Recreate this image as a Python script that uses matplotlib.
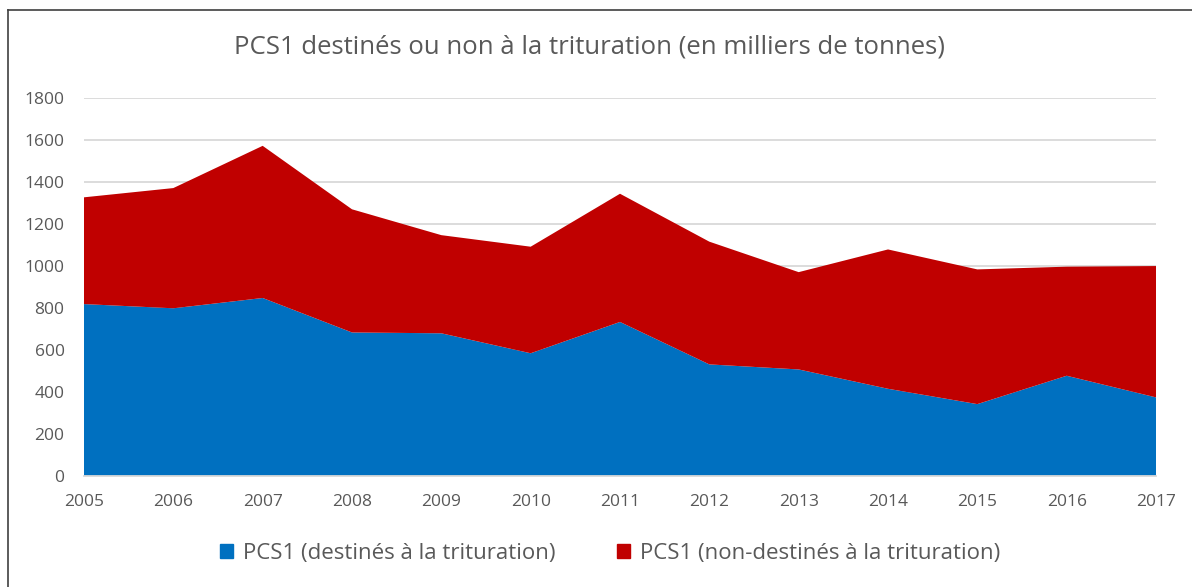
import matplotlib.pyplot as plt
from matplotlib.lines import Line2D
from matplotlib.patches import Patch

plt.rcParams['font.family'] = ['Open Sans', 'DejaVu Sans']

years = [2005, 2006, 2007, 2008, 2009, 2010, 2011, 2012, 2013, 2014, 2015, 2016, 2017]
destines = [818, 798, 847, 683, 679, 584, 733, 531, 507, 415, 342, 477, 374]
non_destines = [508, 572, 724, 586, 467, 507, 610, 584, 463, 663, 641, 519, 625]

BLUE = '#0070C0'
RED = '#C00000'
TXT = '#595959'
GRID = '#D9D9D9'

W, H = 1192, 587
fig = plt.figure(figsize=(W / 100, H / 100), dpi=100)
ax = fig.add_axes([84 / W, (H - 476) / H, (1156 - 84) / W, (476 - 97.7) / H])

ax.stackplot(years, destines, non_destines, colors=[BLUE, RED],
             labels=['PCS1 (destinés à la trituration)',
                     'PCS1 (non-destinés à la trituration)'],
             linewidth=0)

ax.set_xlim(years[0], years[-1])
ax.set_ylim(0, 1800)
ax.set_yticks(range(0, 1801, 200))
ax.set_xticks(years)
ax.grid(axis='y', color=GRID, linewidth=1.3)
ax.set_axisbelow(True)
for s in ['top', 'right', 'left']:
    ax.spines[s].set_visible(False)
ax.spines['bottom'].set_color(GRID)
ax.spines['bottom'].set_linewidth(1.3)
ax.tick_params(axis='both', length=0, colors=TXT, labelsize=12.5)
ax.tick_params(axis='y', pad=14)
ax.tick_params(axis='x', pad=13)

fig.text(590 / W, 1 - 47 / H, 'PCS1 destinés ou non à la trituration (en milliers de tonnes)',
         ha='center', va='center', fontsize=18.5, color=TXT)

handles = [Patch(color=BLUE), Patch(color=RED)]
fig.legend(handles, ['PCS1 (destinés à la trituration)',
                     'PCS1 (non-destinés à la trituration)'],
           loc='center', bbox_to_anchor=(610 / W, 1 - 553 / H), ncol=2, frameon=False,
           fontsize=16, labelcolor=TXT, handlelength=0.6, handleheight=0.6,
           handletextpad=0.45, columnspacing=2.75)

# outer frame (cropped on the right and bottom)
fig.add_artist(Line2D([8 / W, 8 / W], [0, 1 - 10 / H], color='#404040', linewidth=1.2))
fig.add_artist(Line2D([8 / W, 1], [1 - 10 / H, 1 - 10 / H], color='#404040', linewidth=1.2))

fig.savefig('out.png', dpi=100)
